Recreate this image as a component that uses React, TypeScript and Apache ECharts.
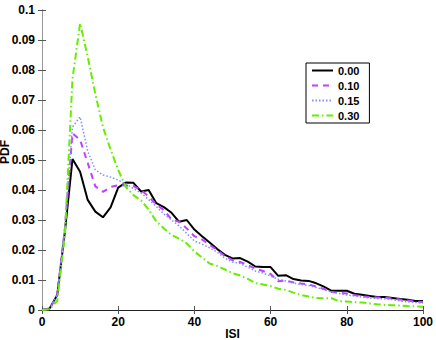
import React, { useEffect, useRef } from "react";
import * as echarts from "echarts";

const isi = [0, 2, 4, 6, 8, 10, 12, 14, 16, 18, 20, 22, 24, 26, 28, 30, 32, 34, 36, 38, 40, 42, 44, 46, 48, 50, 52, 54, 56, 58, 60, 62, 64, 66, 68, 70, 72, 74, 76, 78, 80, 82, 84, 86, 88, 90, 92, 94, 96, 98, 100];

const pdf000 = [0, 0.0005, 0.005, 0.026, 0.0503, 0.0461, 0.0367, 0.0328, 0.0309, 0.0342, 0.0408, 0.0425, 0.0424, 0.0395, 0.04, 0.0356, 0.0343, 0.0324, 0.0294, 0.03, 0.0268, 0.0246, 0.0225, 0.0203, 0.0184, 0.0172, 0.0173, 0.0161, 0.0145, 0.0143, 0.0143, 0.0114, 0.0116, 0.0103, 0.0098, 0.0097, 0.0089, 0.0078, 0.0064, 0.0064, 0.0064, 0.0054, 0.0051, 0.0047, 0.0043, 0.0043, 0.004, 0.0037, 0.0034, 0.003, 0.003];

const pdf010 = [0, 0.0004, 0.005, 0.027, 0.0589, 0.0567, 0.049, 0.0412, 0.0394, 0.041, 0.0416, 0.0415, 0.0413, 0.04, 0.0378, 0.0352, 0.0333, 0.0302, 0.0294, 0.0272, 0.0246, 0.0235, 0.0217, 0.02, 0.018, 0.0166, 0.016, 0.015, 0.0138, 0.013, 0.012, 0.0096, 0.0098, 0.0092, 0.0088, 0.0085, 0.0078, 0.007, 0.006, 0.0057, 0.0055, 0.005, 0.0046, 0.0043, 0.0042, 0.0042, 0.0038, 0.0035, 0.0032, 0.0028, 0.0027];

const pdf015 = [0, 0.0004, 0.005, 0.028, 0.061, 0.0644, 0.053, 0.0467, 0.045, 0.0443, 0.0433, 0.042, 0.0405, 0.039, 0.0368, 0.0345, 0.032, 0.03, 0.028, 0.0255, 0.023, 0.022, 0.0207, 0.0193, 0.0173, 0.016, 0.0155, 0.0143, 0.013, 0.0123, 0.0113, 0.0102, 0.0097, 0.009, 0.0085, 0.0082, 0.0075, 0.0068, 0.006, 0.0055, 0.005, 0.0047, 0.0043, 0.004, 0.0038, 0.0037, 0.0035, 0.003, 0.0027, 0.0025, 0.0023];

const pdf030 = [0, 0.0003, 0.003, 0.025, 0.077, 0.0956, 0.0844, 0.072, 0.061, 0.0535, 0.0467, 0.041, 0.0383, 0.0365, 0.0335, 0.0295, 0.0272, 0.025, 0.0238, 0.0222, 0.0195, 0.0175, 0.0155, 0.0147, 0.0135, 0.0123, 0.0115, 0.0104, 0.009, 0.0085, 0.008, 0.0071, 0.0067, 0.0058, 0.005, 0.0045, 0.004, 0.0039, 0.0039, 0.0029, 0.0028, 0.0026, 0.0025, 0.0022, 0.0019, 0.0017, 0.0016, 0.0015, 0.0013, 0.0012, 0.0011];

const seriesNames = ["0.00", "0.10", "0.15", "0.30"];

const FONT = "'Liberation Sans', Arial, sans-serif";

export default function App() {
  const ref = useRef<HTMLDivElement>(null);
  useEffect(() => {
    if (!ref.current) return;
    const chart = echarts.init(ref.current, null, { renderer: "svg" });
    const pair = (ys: number[]) => isi.map((x, i) => [x, ys[i]]);
    const axisLine = { show: true, lineStyle: { color: "#222", width: 1 } };
    const tick = { show: true, inside: true, length: 4, lineStyle: { color: "#555" } };
    const labelStyle = { color: "#000", fontWeight: "bold" as const, fontSize: 12, fontFamily: FONT };
    chart.setOption({
      animation: false,
      backgroundColor: "#fff",
      grid: { left: 42, right: 13, top: 10, bottom: 30, containLabel: false, outerBoundsMode: "none" },
      legend: {
        orient: "vertical",
        left: 306,
        top: 63,
        backgroundColor: "#fff",
        borderColor: "#000",
        borderWidth: 1,
        borderRadius: 0,
        padding: [2, 10, 2, 5],
        itemGap: 4,
        itemWidth: 21,
        itemHeight: 10,
        itemStyle: { opacity: 0 },
        data: seriesNames,
        textStyle: { color: "#000", fontWeight: "bold", fontSize: 11, fontFamily: FONT, padding: [0, 0, 0, 0] },
      },
      xAxis: [
        {
          type: "value", min: 0, max: 100, interval: 20, position: "bottom",
          name: "ISI", nameLocation: "middle", nameGap: 18, nameMoveOverlap: false,
          nameTextStyle: { color: "#000", fontWeight: "bold", fontSize: 12, fontFamily: FONT },
          axisLine, axisTick: tick, splitLine: { show: false },
          axisLabel: { ...labelStyle, margin: 6 },
        },
        {
          type: "value", min: 0, max: 100, interval: 20, position: "top",
          axisLine, axisTick: tick, splitLine: { show: false }, axisLabel: { show: false },
        },
      ],
      yAxis: [
        {
          type: "value", min: 0, max: 0.1, interval: 0.01, position: "left",
          name: "PDF", nameLocation: "middle", nameGap: 31, nameRotate: 90, nameMoveOverlap: false,
          nameTextStyle: { color: "#000", fontWeight: "bold", fontSize: 12, fontFamily: FONT, padding: [0, 0, 0, 16] },
          axisLine: { show: true, lineStyle: { color: "#555", width: 1 } }, axisTick: tick, splitLine: { show: false },
          axisLabel: { ...labelStyle, margin: 7 },
        },
        {
          type: "value", min: 0, max: 0.1, interval: 0.01, position: "right",
          axisLine: { show: true, lineStyle: { color: "#999", width: 1 } }, axisTick: tick, splitLine: { show: false }, axisLabel: { show: false },
        },
      ],
      series: [
        {
          name: "0.00", type: "line", data: pair(pdf000), symbol: "none", showSymbol: false,
          lineStyle: { color: "#000", width: 2, type: "solid" }, itemStyle: { color: "#000" },
        },
        {
          name: "0.10", type: "line", data: pair(pdf010), symbol: "none", showSymbol: false,
          lineStyle: { color: "#bf40ff", width: 2, type: [6, 5] }, itemStyle: { color: "#bf40ff" },
        },
        {
          name: "0.15", type: "line", data: pair(pdf015), symbol: "none", showSymbol: false,
          lineStyle: { color: "#7f8cff", width: 1.5, type: [1.5, 2] }, itemStyle: { color: "#7f8cff" },
        },
        {
          name: "0.30", type: "line", data: pair(pdf030), symbol: "none", showSymbol: false,
          lineStyle: { color: "#66ee00", width: 2, type: [7, 3, 1.5, 3] }, itemStyle: { color: "#66ee00" },
        },
      ],
    });
    return () => chart.dispose();
  }, []);
  return <div ref={ref} style={{ width: 436, height: 340, position: "absolute", left: 0, top: 0 }} />;
}
